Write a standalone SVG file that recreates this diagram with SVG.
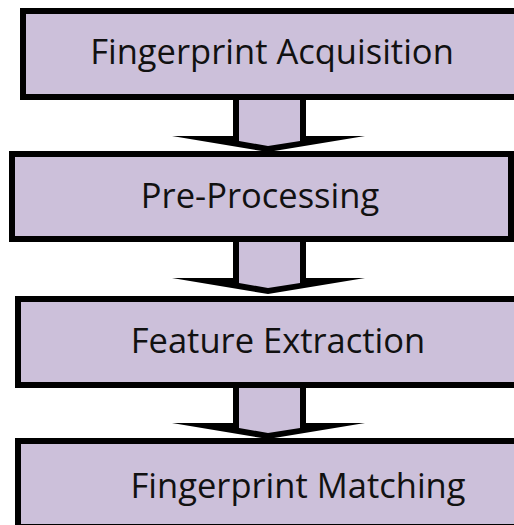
<svg xmlns="http://www.w3.org/2000/svg" width="514" height="525" viewBox="0 0 514 525">
<style>
.box{fill:#CCC0DA;stroke:#000;stroke-width:6}
.lbl{font-family:"Open Sans","Noto Sans",sans-serif;font-size:34.5px;fill:#111;text-anchor:middle}
.ao{fill:#000}
.ai{fill:#CCC0DA}
</style>
<rect width="514" height="525" fill="#fff"/>
<g id="connectors">
<g id="arrow1"><polygon class="ao" points="233,97 306,97 306,136 365,136 268,152 172,136 233,136"/><polygon class="ai" points="239,97 300,97 300,141 268,146 239,141"/></g>
<g id="arrow2"><polygon class="ao" points="233,239 306,239 306,278 365,278 268,294 172,278 233,278"/><polygon class="ai" points="239,239 300,239 300,283 268,288 239,283"/></g>
<g id="arrow3"><polygon class="ao" points="233,385 306,385 306,423 365,423 268,439 172,423 233,423"/><polygon class="ai" points="239,385 300,385 300,428 268,433 239,428"/></g>
</g>
<g id="node1"><rect class="box" x="23" y="11" width="500" height="86"/><text class="lbl" x="272" y="64">Fingerprint Acquisition</text></g>
<g id="node2"><rect class="box" x="12" y="154" width="499" height="85"/><text class="lbl" x="260" y="208">Pre-Processing</text></g>
<g id="node3"><rect class="box" x="18" y="299" width="510" height="86"/><text class="lbl" x="278" y="353">Feature Extraction</text></g>
<g id="node4"><rect class="box" x="18" y="441" width="510" height="86"/><text class="lbl" x="298" y="498">Fingerprint Matching</text></g>
</svg>
